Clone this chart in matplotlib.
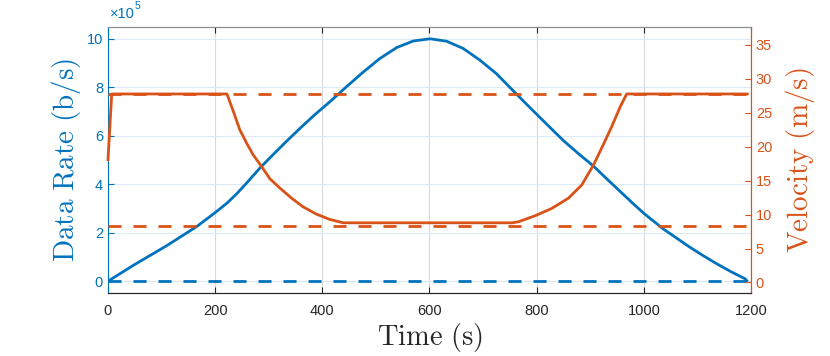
"""
Data rate and vehicle velocity over time (two y axes, MATLAB-like look).
"""
import numpy as np
import matplotlib as mpl
mpl.use("Agg")
import matplotlib.pyplot as plt

# --- data ---
t_rate = [0, 47, 110, 166, 203, 222, 240, 260, 284, 309, 334, 360, 385, 414, 445,
          476, 507, 539, 570, 601, 632, 663, 694, 725, 756, 788, 820, 850, 878, 906,
          930, 955, 980, 1000, 1036, 1061, 1086, 1111, 1136, 1162, 1189, 1192]
rate = [0.00, 0.65, 1.47, 2.26, 2.88, 3.22, 3.60, 4.08, 4.68, 5.24, 5.79, 6.34, 6.85,
        7.40, 8.02, 8.62, 9.18, 9.64, 9.91, 10.00, 9.90, 9.60, 9.12, 8.56, 7.86, 7.15,
        6.45, 5.80, 5.26, 4.75, 4.24, 3.72, 3.20, 2.80, 2.16, 1.78, 1.40, 1.05, 0.72,
        0.40, 0.10, 0.02]

t_vel = [0, 7, 222, 234, 246, 259, 271, 287, 302, 321, 343, 364, 389, 414, 439,
         754, 766, 797, 828, 859, 884, 906, 924, 940, 956, 968, 1193]
vel = [18.1, 27.78, 27.78, 25.2, 22.5, 20.5, 18.8, 17.05, 15.3, 13.9, 12.4, 11.15,
       10.07, 9.29, 8.79, 8.79, 8.94, 9.83, 10.9, 12.4, 14.35, 17.3, 20.25, 22.95,
       25.9, 27.78, 27.78]

v_max = 27.78
v_min = 8.33
t_end = 1193

blue = '#0072BD'
orange = '#D95319'
dark = '#262626'

plt.rcParams['font.family'] = ['Liberation Sans', 'DejaVu Sans']
plt.rcParams['font.size'] = 10.5

fig = plt.figure(figsize=(8.3, 3.56), dpi=100)
ax = fig.add_axes([0.1301, 0.1761, 0.7747, 0.749])
ax2 = ax.twinx()

dash = (4.7, 4.3)

# left axis: data rate
ax.plot(t_rate, np.array(rate) * 1e5, color=blue, lw=2)
ax.plot([0, t_end], [0, 0], color=blue, lw=2, ls=(0, dash))

# right axis: velocity
ax2.plot(t_vel, vel, color=orange, lw=2, clip_on=False)
ax2.plot([0, t_end], [v_max, v_max], color=orange, lw=2, ls=(0, dash))
ax2.plot([0, t_end], [v_min, v_min], color=orange, lw=2, ls=(0, dash))

ax.set_xlim(0, 1200)
ax.set_ylim(-0.5e5, 10.5e5)
ax2.set_ylim(-1.6, 37.7)

ax.set_xticks(np.arange(0, 1201, 200))
ax.set_yticks(np.arange(0, 10.1e5, 2e5))
ax.set_yticklabels([str(v) for v in range(0, 11, 2)])
ax2.set_yticks(np.arange(0, 36, 5))

# grid
ax.grid(axis='x', color='#d9d9d9', lw=0.8)
ax.grid(axis='y', color='#dceaf5', lw=0.8)
ax.set_axisbelow(True)

# ticks and spines
ax.tick_params(axis='x', direction='in', top=True, colors=dark, length=4, pad=8)
ax.tick_params(axis='y', direction='in', colors=blue, length=4)
ax2.tick_params(axis='y', direction='in', colors=orange, length=4)
for a in (ax, ax2):
    a.spines['left'].set_color(blue)
    a.spines['right'].set_color(orange)
    a.spines['bottom'].set_color(dark)
    a.spines['top'].set_color('#8c8c8c')
    for s in a.spines.values():
        s.set_linewidth(0.8)
ax2.spines['left'].set_visible(False)

# exponent label above the left axis
mult = ax.text(0.003, 1.02, '\u00d710', transform=ax.transAxes, color=blue,
               fontsize=10.5, ha='left', va='bottom')
ax.annotate('5', xy=(1, 0.75), xycoords=mult, color=blue, fontsize=7.5,
            ha='left', va='bottom')

ax.set_xlabel(r'$\mathrm{Time\ (s)}$', fontsize=20.5, color=dark,
              math_fontfamily='cm', labelpad=2)
ax.set_ylabel(r'$\mathrm{Data\ Rate\ (b/s)}$', fontsize=21, color=blue,
              math_fontfamily='cm', labelpad=3)
ax2.set_ylabel(r'$\mathrm{Velocity\ (m/s)}$', fontsize=21, color=orange,
               math_fontfamily='cm', labelpad=8)

fig.savefig('out.png', dpi=100)
